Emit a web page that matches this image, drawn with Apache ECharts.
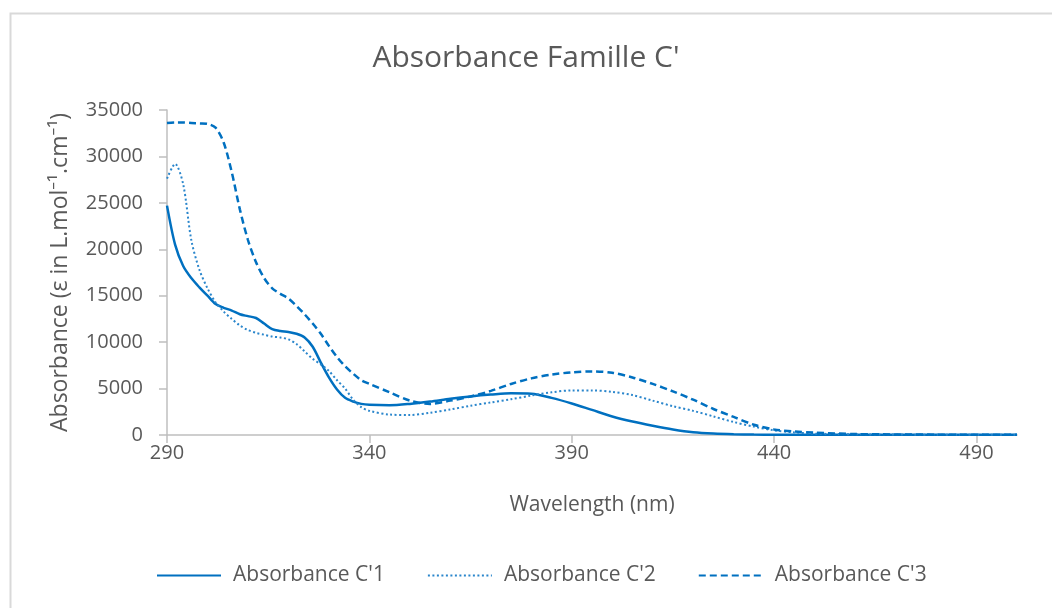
<!DOCTYPE html>
<html>
<head>
<meta charset="utf-8">
<script src="https://cdn.jsdelivr.net/npm/echarts@6/dist/echarts.min.js"></script>
<style>
html,body{margin:0;padding:0;background:#fff;}
#c{width:1052px;height:608px;}
</style>
</head>
<body>
<div id="c"></div>
<script>
const wavelengths = [290,292,294,296,298,300,302,304,306,308,310,312,314,316,318,320,322,324,326,328,330,332,334,336,338,340,345,350,355,360,365,370,375,380,385,390,395,400,405,410,415,420,425,430,435,440,445,450,460,470,480,490,500];
const absC1 = [24700,20500,18200,16900,15900,15000,14100,13700,13400,13000,12800,12600,12000,11400,11200,11100,10900,10500,9500,7800,6200,4900,4000,3600,3350,3250,3200,3350,3600,3900,4150,4350,4500,4450,4000,3400,2700,2000,1450,1000,600,300,150,80,50,30,20,20,20,20,20,20,20];
const absC2 = [27600,29200,27000,21000,17800,15800,14300,13300,12500,11800,11300,11000,10800,10600,10500,10300,9800,9000,8200,7600,6900,5900,5000,3800,3000,2600,2200,2150,2400,2750,3150,3500,3850,4250,4600,4800,4800,4650,4300,3700,3100,2600,2000,1400,900,500,280,150,80,50,30,30,30];
const absC3 = [33600,33650,33650,33600,33550,33500,33100,31500,28300,24300,21000,18600,16900,15800,15200,14700,13900,13000,12000,10900,9600,8400,7400,6600,5900,5500,4600,3700,3350,3700,4150,4750,5500,6100,6500,6750,6850,6700,6200,5500,4700,3800,2800,1950,1100,600,380,250,100,60,40,40,40];
const seriesNames = ["Absorbance C'1", "Absorbance C'2", "Absorbance C'3"];
const chartTitle = "Absorbance Famille C'";
const xAxisName = "Wavelength (nm)";
const yAxisName = "Absorbance (ε in L.mol⁻¹.cm⁻¹)";

const pair = arr => wavelengths.map((w, i) => [w, arr[i]]);
const FONT = "'Open Sans', 'Noto Sans', sans-serif";
const GRAY = '#595959';
const BLUE = '#0070C0';

const chart = echarts.init(document.getElementById('c'), null, {renderer: 'canvas'});
chart.setOption({
  backgroundColor: '#fff',
  animation: false,
  graphic: [{
    type: 'rect', left: 8, top: 11, silent: true,
    shape: {x: 0, y: 0, width: 1100, height: 700},
    style: {fill: 'none', stroke: '#d9d9d9', lineWidth: 2}
  }],
  title: {
    text: chartTitle, left: 'center', top: 38,
    textStyle: {fontFamily: FONT, fontSize: 30, fontWeight: 'normal', color: GRAY}
  },
  legend: {
    bottom: 17, left: 151, itemGap: 42, itemWidth: 64, itemHeight: 10,
    itemStyle: {opacity: 0},
    textStyle: {fontFamily: FONT, fontSize: 21, color: GRAY, padding: [0, 0, 0, 7]},
    data: seriesNames
  },
  grid: {left: 167, right: 35, top: 110, bottom: 173, containLabel: false},
  xAxis: {
    type: 'value', min: 290, max: 500, interval: 50,
    name: xAxisName, nameLocation: 'middle', nameGap: 60,
    nameTextStyle: {fontFamily: FONT, fontSize: 21, color: GRAY},
    axisLine: {show: true, lineStyle: {color: '#bfbfbf', width: 1.5}},
    axisTick: {show: true, length: 8, lineStyle: {color: '#bfbfbf', width: 1.5}},
    axisLabel: {fontFamily: FONT, fontSize: 20, color: GRAY, margin: 8, showMaxLabel: false},
    splitLine: {show: false}
  },
  yAxis: {
    type: 'value', min: 0, max: 35000, interval: 5000,
    name: yAxisName, nameLocation: 'middle', nameGap: 95, nameRotate: 90,
    nameTextStyle: {fontFamily: FONT, fontSize: 23, color: GRAY},
    axisLine: {show: true, lineStyle: {color: '#bfbfbf', width: 1.5}},
    axisTick: {show: true, length: 8, lineStyle: {color: '#bfbfbf', width: 1.5}},
    axisLabel: {fontFamily: FONT, fontSize: 20, color: GRAY, margin: 24, formatter: v => String(v)},
    splitLine: {show: false}
  },
  series: [
    {name: seriesNames[0], type: 'line', data: pair(absC1), smooth: 0.3, symbol: 'none',
     lineStyle: {color: BLUE, width: 2.5, type: 'solid'}, itemStyle: {color: BLUE}},
    {name: seriesNames[1], type: 'line', data: pair(absC2), smooth: 0.3, symbol: 'none',
     lineStyle: {color: '#2a86cc', width: 2, type: [2, 2.5]}, itemStyle: {color: '#2a86cc'}},
    {name: seriesNames[2], type: 'line', data: pair(absC3), smooth: 0.3, symbol: 'none',
     lineStyle: {color: BLUE, width: 2.5, type: [7, 4]}, itemStyle: {color: BLUE}}
  ]
});
</script>
</body>
</html>
